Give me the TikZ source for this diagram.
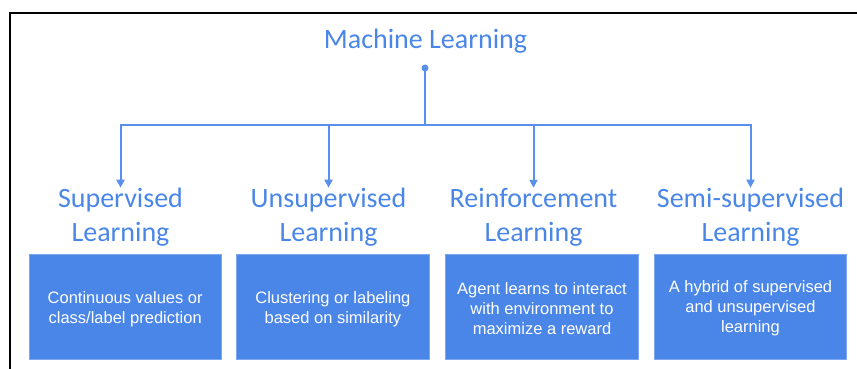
\documentclass[tikz,border=0pt]{standalone}
\usepackage{fontspec}
\setmainfont{Liberation Sans}
\newfontfamily\calib{Carlito}
\usetikzlibrary{arrows.meta}
\definecolor{mlblue}{RGB}{74,134,232}
\definecolor{mlline}{RGB}{88,144,236}
\definecolor{mlborder}{RGB}{125,168,240}
\begin{document}
\begin{tikzpicture}[x=1pt,y=-1pt,
  title/.style={text=mlblue, font=\calib\fontsize{28}{34}\selectfont, align=center, inner sep=0pt},
  box/.style={fill=mlblue, draw=mlborder, line width=0.8pt, minimum width=192.5pt, minimum height=104.5pt, text=white, font=\fontsize{16.5}{20}\selectfont, align=center, inner sep=0pt},
  conn/.style={draw=mlline, line width=2pt},
  arr/.style={conn, -{Triangle[width=8pt,length=8pt]}}]
\useasboundingbox (0,0) rectangle (857,368);
\clip (0,0) rectangle (857,368);
\draw[line width=2.2pt] (10,380) -- (10,13) -- (870,13);
% title
\node[title, anchor=base] (ml) at (425.5,48) {Machine Learning};
\node[circle, fill=mlline, inner sep=0pt, minimum size=7pt] (dot) at (425,68) {};
\coordinate (jn) at (425,125);
% category titles
\node[title] (t1) at (120.5,217) {Supervised\\Learning};
\node[title] (t2) at (328.5,217) {Unsupervised\\Learning};
\node[title] (t3) at (533.5,217) {Reinforcement\\Learning};
\node[title] (t4) at (750.5,217) {Semi-supervised\\Learning};
% boxes
\node[box] (b1) at (125.2,306.7) {\\[-2pt]Continuous values or\\class/label prediction};
\node[box] (b2) at (332.9,306.7) {\\[-2pt]Clustering or labeling\\based on similarity};
\node[box] (b3) at (542,306.7) {\\[-4pt]Agent learns to interact\\with environment to\\maximize a reward};
\node[box] (b4) at (750.5,306.7) {\\[-4pt]A hybrid of supervised\\and unsupervised\\learning};
% connectors
\draw[conn] (dot.center) -- (jn);
\draw[arr] (jn) -| (t1.north);
\draw[arr] (jn) -| (t2.north);
\draw[arr] (jn) -| (t3.north);
\draw[arr] (jn) -| (t4.north);
\end{tikzpicture}
\end{document}
